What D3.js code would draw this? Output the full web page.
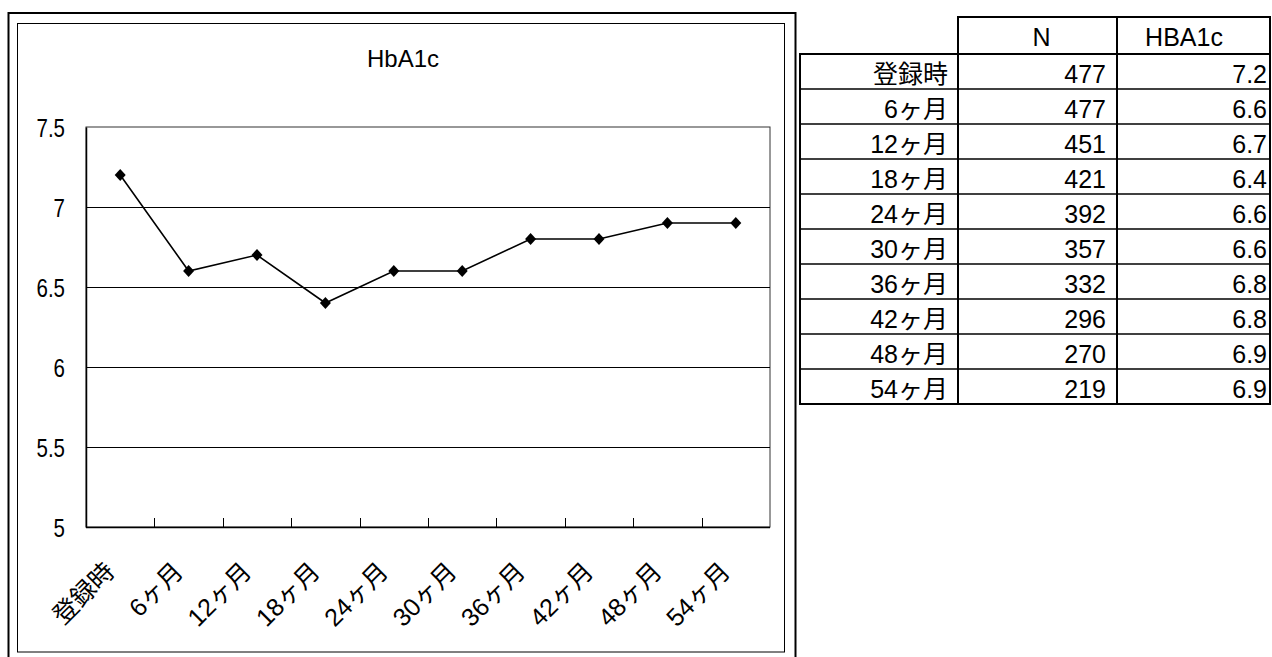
<!DOCTYPE html>
<html><head><meta charset="utf-8">
<script src="https://cdn.jsdelivr.net/npm/d3@7"></script>
<style>
html,body{margin:0;padding:0;background:#fff;}
svg{display:block;}
text{font-family:"Liberation Sans","Noto Sans CJK JP",sans-serif;fill:#000;}
</style></head>
<body>
<svg id="c" width="1272" height="657"></svg>
<script>
const categories = ["登録時","6ヶ月","12ヶ月","18ヶ月","24ヶ月","30ヶ月","36ヶ月","42ヶ月","48ヶ月","54ヶ月"];
const hba1cValues = [7.2,6.6,6.7,6.4,6.6,6.6,6.8,6.8,6.9,6.9];
const nValues = [477,477,451,421,392,357,332,296,270,219];
const yTicks = [5,5.5,6,6.5,7,7.5];
const tableHeaders = ["N","HBA1c"];
const chartTitle = "HbA1c";

const svg = d3.select("#c");

// chart frames
svg.append("rect").attr("x",8.5).attr("y",13).attr("width",787).attr("height",660)
  .attr("fill","none").attr("stroke","#000").attr("stroke-width",2);
svg.append("rect").attr("x",17.5).attr("y",23.5).attr("width",767).attr("height",628.5)
  .attr("fill","none").attr("stroke","#000").attr("stroke-width",1);

const P = {l:86, t:127, r:770, b:527};
const x = d3.scaleBand().domain(categories).range([P.l,P.r]).padding(0);
const y = d3.scaleLinear().domain([5,7.5]).range([P.b,P.t]);

// title
svg.append("text").attr("x",403).attr("y",67).attr("text-anchor","middle")
  .style("font-size","24px").text(chartTitle);

// plot border
svg.append("rect").attr("x",P.l).attr("y",P.t).attr("width",P.r-P.l).attr("height",P.b-P.t)
  .attr("fill","none").attr("stroke","#333").attr("stroke-width",1);

// gridlines
svg.append("g").selectAll("line").data(yTicks.filter(d=>d>5&&d<7.5)).join("line")
  .attr("x1",P.l).attr("x2",P.r).attr("y1",d=>Math.round(y(d))+0.5).attr("y2",d=>Math.round(y(d))+0.5)
  .attr("stroke","#000").attr("stroke-width",1);

// y axis
const ya = svg.append("g").attr("transform",`translate(${P.l},0)`)
  .call(d3.axisLeft(y).tickValues(yTicks).tickSize(0).tickPadding(21).tickFormat(d=>String(d)));
ya.select(".domain").attr("stroke","#000").attr("stroke-width",1.5);
ya.selectAll("text").attr("x",0).attr("transform","translate(-21,0) scale(0.82,1)")
  .style("font-size","25px").attr("dy","0.36em");

// x axis line
svg.append("line").attr("x1",P.l).attr("x2",P.r).attr("y1",P.b+0.5).attr("y2",P.b+0.5)
  .attr("stroke","#000").attr("stroke-width",1.5);
// ticks between categories
svg.append("g").selectAll("line").data(categories.slice(1)).join("line")
  .attr("x1",d=>Math.round(x(d))+0.5).attr("x2",d=>Math.round(x(d))+0.5)
  .attr("y1",P.b).attr("y2",P.b-9).attr("stroke","#000").attr("stroke-width",1);

// x labels
svg.append("g").selectAll("text").data(categories).join("text")
  .attr("transform",d=>`translate(${x(d)+x.bandwidth()/2-4},573) rotate(-45)`)
  .attr("text-anchor","end").style("font-size","25px").text(d=>d);

// line
const cx = d=>x(d)+x.bandwidth()/2;
const pts = categories.map((c,i)=>[cx(c), y(hba1cValues[i])]);
svg.append("path").attr("d",d3.line()(pts)).attr("fill","none").attr("stroke","#000").attr("stroke-width",1.6);
svg.append("g").selectAll("path").data(pts).join("path")
  .attr("transform",d=>`translate(${d[0]},${d[1]})`)
  .attr("d","M0,-6L5.5,0L0,6L-5.5,0Z").attr("fill","#000");

// table
const T = {l:800, c1:958, c2:1117, r:1270, ht:17, top:54, bottom:404};
const ry = d3.scaleBand().domain(categories).range([T.top,T.bottom]).padding(0);
const tg = svg.append("g");
// header cells
tg.append("rect").attr("x",T.c1).attr("y",T.ht).attr("width",T.r-T.c1).attr("height",T.top-T.ht)
  .attr("fill","none").attr("stroke","#000").attr("stroke-width",2);
tg.append("line").attr("x1",T.c2).attr("x2",T.c2).attr("y1",T.ht).attr("y2",T.top).attr("stroke","#000").attr("stroke-width",2);
tg.append("text").attr("x",(T.c1+T.c2)/2+4).attr("y",46).attr("text-anchor","middle").style("font-size","25px").text(tableHeaders[0]);
tg.append("text").attr("x",1184).attr("y",46).attr("text-anchor","middle").style("font-size","25px").text(tableHeaders[1]);
// body
tg.append("rect").attr("x",T.l).attr("y",T.top).attr("width",T.r-T.l).attr("height",T.bottom-T.top)
  .attr("fill","none").attr("stroke","#000").attr("stroke-width",2);
tg.selectAll("line.h").data(categories.slice(1)).join("line").attr("class","h")
  .attr("x1",T.l).attr("x2",T.r).attr("y1",d=>ry(d)).attr("y2",d=>ry(d)).attr("stroke","#000").attr("stroke-width",1.5);
[T.c1,T.c2].forEach(v=>tg.append("line").attr("x1",v).attr("x2",v).attr("y1",T.top).attr("y2",T.bottom).attr("stroke","#000").attr("stroke-width",2));
const rows = tg.selectAll("g.row").data(categories.map((c,i)=>({c,n:nValues[i],v:hba1cValues[i]}))).join("g").attr("class","row")
  .attr("transform",d=>`translate(0,${ry(d.c)+ry.bandwidth()-6})`);
rows.append("text").attr("x",T.c1-10).attr("text-anchor","end").style("font-size","25px").text(d=>d.c);
rows.append("text").attr("x",T.c2-11).attr("text-anchor","end").style("font-size","25px").text(d=>d.n);
rows.append("text").attr("x",T.r-3).attr("text-anchor","end").style("font-size","25px").text(d=>d3.format(".1f")(d.v));
</script>
</body></html>
